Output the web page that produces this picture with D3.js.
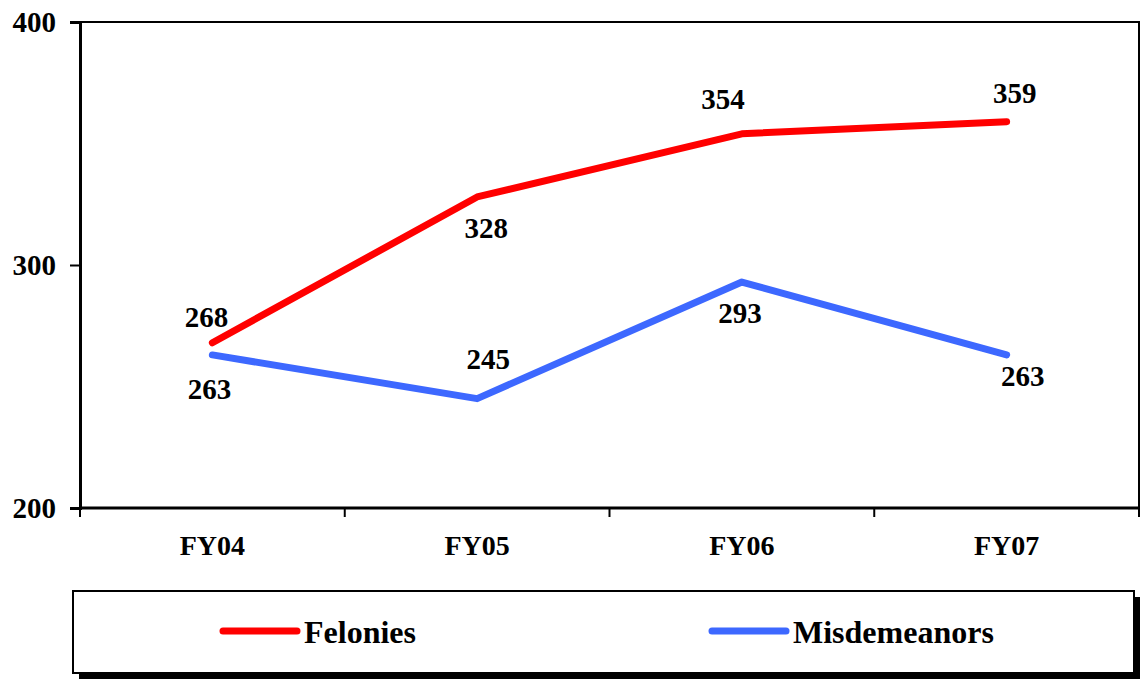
<!DOCTYPE html>
<html>
<head>
<meta charset="utf-8">
<script src="https://cdn.jsdelivr.net/npm/d3@7"></script>
<style>
  body { margin: 0; background: #fff; }
  svg text { font-family: "Times New Roman", Times, "Liberation Serif", "DejaVu Serif", serif !important; font-weight: bold; }
</style>
</head>
<body>
<div id="chart"></div>
<script>
// chart data
const years = ["FY04", "FY05", "FY06", "FY07"];
const felonies = [268, 328, 354, 359];
const misdemeanors = [263, 245, 293, 263];
const yTicks = [200, 300, 400];

// label nudges (px) from each point, as placed in the original
const felonyNudge = [[-6, -22], [9, 34], [-19, -31], [8, -25]];
const misdNudge = [[-3, 37], [11, -36], [-2, 34], [16, 24]];

const series = [
    { name: "Felonies", values: felonies, nudge: felonyNudge, color: "#ff0000" },
    { name: "Misdemeanors", values: misdemeanors, nudge: misdNudge, color: "#3d68ff" }
];

const W = 1142, H = 681;
const plot = { left: 80, top: 22, right: 1139, bottom: 508 };

const svg = d3.select("#chart").append("svg")
    .attr("width", W)
    .attr("height", H);

const x = d3.scaleBand().domain(years).range([plot.left, plot.right]);
const y = d3.scaleLinear().domain([200, 400]).range([plot.bottom, plot.top]);

// frame (top and right)
svg.append("path")
    .attr("d", `M${plot.left},${plot.top}H${plot.right}V${plot.bottom}`)
    .attr("fill", "none")
    .attr("stroke", "#000")
    .attr("stroke-width", 2);

// y axis
const yAxis = svg.append("g")
    .attr("transform", `translate(${plot.left},0)`)
    .call(d3.axisLeft(y).tickValues(yTicks).tickSize(10).tickPadding(14));
yAxis.select(".domain").attr("stroke-width", 3);
yAxis.selectAll(".tick line").attr("stroke-width", 2);
yAxis.selectAll(".tick text")
    .attr("font-size", 29)
    .attr("fill", "#000");

// x axis, ticks at band boundaries
const xAxis = svg.append("g")
    .attr("transform", `translate(0,${plot.bottom})`)
    .call(d3.axisBottom(x).tickSize(0).tickPadding(27));
xAxis.select(".domain").attr("stroke-width", 3).attr("d", `M${plot.left},0H${plot.right}`);
xAxis.selectAll(".tick text")
    .attr("font-size", 28)
    .attr("fill", "#000");
const bounds = years.map(d => x(d)).concat([plot.right]);
xAxis.selectAll(".bound")
    .data(bounds)
    .enter().append("line")
    .attr("class", "bound")
    .attr("x1", d => d).attr("x2", d => d)
    .attr("y1", 0).attr("y2", 9)
    .attr("stroke", "#000")
    .attr("stroke-width", 2);

// lines
const cx = i => x(years[i]) + x.bandwidth() / 2;
const line = d3.line()
    .x((d, i) => cx(i))
    .y(d => y(d));

series.forEach(s => {
    svg.append("path")
        .datum(s.values)
        .attr("d", line)
        .attr("fill", "none")
        .attr("stroke", s.color)
        .attr("stroke-width", 7)
        .attr("stroke-linecap", "round")
        .attr("stroke-linejoin", "round");

    svg.selectAll(null)
        .data(s.values)
        .enter().append("text")
        .attr("x", (d, i) => cx(i) + s.nudge[i][0])
        .attr("y", (d, i) => y(d) + s.nudge[i][1])
        .attr("text-anchor", "middle")
        .attr("dominant-baseline", "middle")
        .attr("font-size", 29)
        .attr("fill", "#000")
        .text(d => d);
});

// legend box with shadow
const lg = { x: 73, y: 591, w: 1061, h: 82 };
svg.append("rect")
    .attr("x", lg.x + 6).attr("y", lg.y + 6)
    .attr("width", lg.w).attr("height", lg.h)
    .attr("fill", "#000");
svg.append("rect")
    .attr("x", lg.x).attr("y", lg.y)
    .attr("width", lg.w).attr("height", lg.h)
    .attr("fill", "#fff")
    .attr("stroke", "#000")
    .attr("stroke-width", 2);

const legendX = [223, 712];
series.forEach((s, i) => {
    const g = svg.append("g").attr("transform", `translate(${legendX[i]},631)`);
    g.append("line")
        .attr("x1", 0).attr("x2", 74)
        .attr("stroke", s.color)
        .attr("stroke-width", 7)
        .attr("stroke-linecap", "round");
    g.append("text")
        .attr("x", 81)
        .attr("y", 12)
        .attr("font-size", 32)
        .attr("fill", "#000")
        .text(s.name);
});
</script>
</body>
</html>
